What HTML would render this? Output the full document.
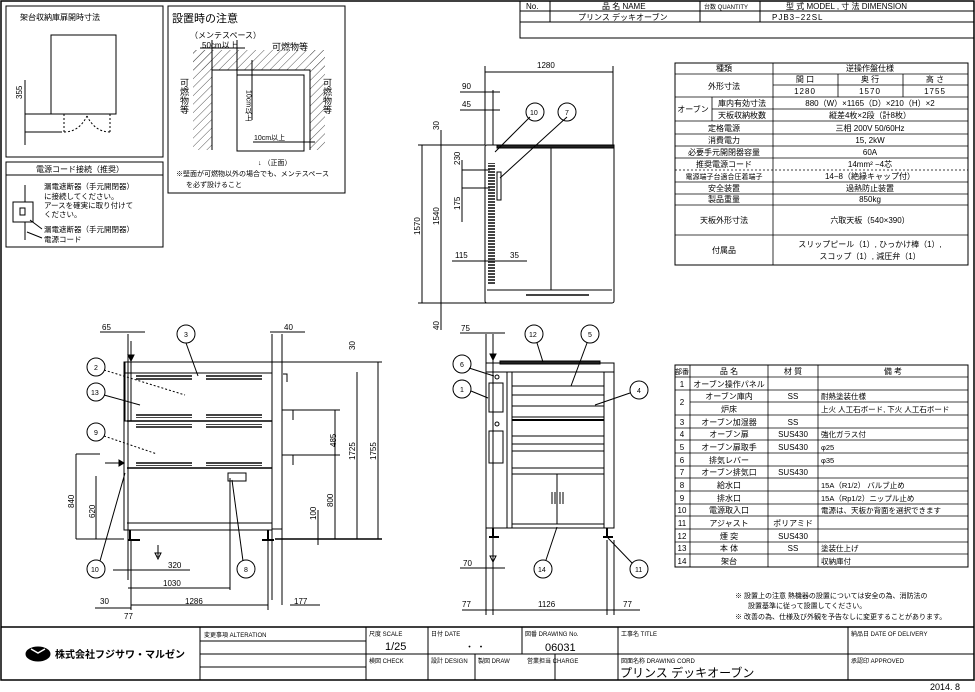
<!DOCTYPE html>
<html><head><meta charset="utf-8"><style>
body{margin:0;background:#fff}
svg{display:block;font-family:"Liberation Sans","Noto Sans CJK JP",sans-serif}
text{fill:#000}
</style></head><body>
<svg width="975" height="692" viewBox="0 0 975 692" xmlns="http://www.w3.org/2000/svg">
<defs>
<pattern id="h" width="6" height="6" patternUnits="userSpaceOnUse" patternTransform="rotate(45)"><line x1="0" y1="0" x2="0" y2="6" stroke="#555" stroke-width="1"/></pattern>
<pattern id="v" width="2" height="3" patternUnits="userSpaceOnUse"><rect width="2" height="2" fill="#444"/></pattern>
</defs>
<g fill="none" stroke="#000" stroke-width="1">
<rect x="1" y="1" width="973" height="679" stroke-width="1.5"/>
<rect x="520" y="1" width="454" height="37"/>
<line x1="520" y1="11" x2="974" y2="11"/><line x1="520" y1="22" x2="974" y2="22"/>
<line x1="550" y1="1" x2="550" y2="22"/><line x1="700" y1="1" x2="700" y2="22"/><line x1="760" y1="1" x2="760" y2="22"/>
<rect x="6" y="6" width="157" height="151"/>
<rect x="51" y="35" width="65" height="79"/>
<line x1="25" y1="80" x2="25" y2="145"/><line x1="25" y1="114" x2="60" y2="114"/><line x1="25" y1="132" x2="62" y2="132"/>
<path d="M64 114v18M110 114v18M64 132q15 0 23-16M110 132q-15 0-23-16" stroke-dasharray="2 2"/>
<rect x="6" y="162" width="157" height="85"/>
<line x1="6" y1="175" x2="163" y2="175"/>
<rect x="13" y="202" width="20" height="20"/><rect x="20" y="208" width="5" height="7"/>
<line x1="25" y1="185" x2="25" y2="202"/><line x1="25" y1="222" x2="25" y2="240"/>
<line x1="30" y1="220" x2="42" y2="229"/><line x1="27" y1="232" x2="42" y2="238"/>
<rect x="168" y="6" width="177" height="187"/>
<rect x="193" y="50" width="19" height="100" fill="url(#h)" stroke="none"/>
<rect x="193" y="50" width="132" height="20" fill="url(#h)" stroke="none"/>
<rect x="310" y="50" width="15" height="100" fill="url(#h)" stroke="none"/>
<path d="M212 150V70H310V150"/>
<rect x="237" y="75" width="67" height="76" fill="#fff"/>
<line x1="200" y1="48" x2="245" y2="48"/><line x1="212" y1="40" x2="212" y2="70"/><line x1="237" y1="40" x2="237" y2="75"/>
<line x1="252" y1="60" x2="252" y2="120"/><line x1="253" y1="142" x2="315" y2="142"/>
<line x1="485" y1="72" x2="613" y2="72"/><line x1="485" y1="66" x2="485" y2="145"/><line x1="613" y1="66" x2="613" y2="145"/>
<line x1="460" y1="92" x2="500" y2="92"/><line x1="460" y1="110" x2="500" y2="110"/>
<line x1="485" y1="90" x2="485" y2="112"/><line x1="493" y1="90" x2="493" y2="145"/>
<rect x="485" y="145" width="129" height="158" rx="2"/>
<rect x="497" y="145" width="117" height="3" fill="#222"/>
<line x1="551" y1="148" x2="551" y2="290"/>
<rect x="488" y="163" width="7" height="122" fill="url(#v)" stroke="none"/>
<rect x="497" y="172" width="4" height="28"/>
<line x1="487" y1="290" x2="612" y2="290"/>
<rect x="526" y="294" width="63" height="3" fill="url(#v)" stroke="none"/>
<line x1="422" y1="145" x2="422" y2="303"/><line x1="441" y1="145" x2="441" y2="303"/>
<line x1="418" y1="145" x2="485" y2="145"/><line x1="418" y1="303" x2="495" y2="303"/>
<line x1="441" y1="130" x2="441" y2="145"/><line x1="441" y1="303" x2="441" y2="330"/>
<line x1="462" y1="170" x2="490" y2="170"/><line x1="462" y1="188" x2="490" y2="188"/><line x1="462" y1="160" x2="462" y2="222"/>
<line x1="452" y1="261" x2="527" y2="261"/>
<line x1="495" y1="152" x2="530" y2="117"/><line x1="500" y1="178" x2="567" y2="117"/>
<circle cx="535" cy="112" r="9"/><circle cx="567" cy="112" r="9"/>
<rect x="124" y="362" width="148" height="168"/>
<rect x="125" y="362" width="6" height="59"/>
<line x1="124" y1="373" x2="272" y2="373"/>
<line x1="127" y1="421" x2="272" y2="421" stroke-width="1.5"/>
<line x1="127" y1="468" x2="272" y2="468" stroke-width="1.5"/>
<line x1="127" y1="523" x2="272" y2="523"/>
<path d="M272 362h10v167h-10"/>
<rect x="136" y="375" width="56" height="5" fill="url(#v)" stroke="none"/><rect x="206" y="375" width="56" height="5" fill="url(#v)" stroke="none"/>
<rect x="136" y="413" width="56" height="5" fill="url(#v)" stroke="none"/><rect x="206" y="413" width="56" height="5" fill="url(#v)" stroke="none"/>
<rect x="136" y="424" width="56" height="5" fill="url(#v)" stroke="none"/><rect x="206" y="424" width="56" height="5" fill="url(#v)" stroke="none"/>
<rect x="136" y="461" width="56" height="5" fill="url(#v)" stroke="none"/><rect x="206" y="461" width="56" height="5" fill="url(#v)" stroke="none"/>
<rect x="228" y="473" width="18" height="8"/>
<path d="M130 530v10M268 530v10M128 540h12M262 540h12" stroke-width="2"/>
<path d="M283 374h4v8M283 410h10v10M283 455h10v10"/>
<line x1="378" y1="362" x2="378" y2="539"/><line x1="357" y1="372" x2="357" y2="539"/><line x1="335" y1="410" x2="335" y2="539"/><line x1="318" y1="510" x2="318" y2="545"/>
<line x1="282" y1="362" x2="382" y2="362"/><line x1="282" y1="410" x2="340" y2="410"/><line x1="282" y1="455" x2="340" y2="455"/>
<line x1="275" y1="539" x2="382" y2="539" stroke-width="1.5"/>
<line x1="76" y1="454" x2="100" y2="454"/><line x1="76" y1="454" x2="76" y2="539"/><line x1="96" y1="476" x2="96" y2="539"/><line x1="76" y1="539" x2="124" y2="539"/>
<line x1="128" y1="334" x2="128" y2="580"/><line x1="272" y1="334" x2="272" y2="600"/><line x1="282" y1="334" x2="282" y2="605"/>
<line x1="100" y1="332" x2="145" y2="332"/><line x1="270" y1="332" x2="305" y2="332"/>
<line x1="113" y1="570" x2="190" y2="570"/><line x1="128" y1="588" x2="230" y2="588"/><line x1="131" y1="605" x2="268" y2="605"/>
<line x1="95" y1="608" x2="131" y2="608"/><line x1="290" y1="605" x2="320" y2="605"/>
<line x1="131" y1="540" x2="131" y2="610"/><line x1="230" y1="478" x2="230" y2="590"/><line x1="268" y1="540" x2="268" y2="610"/>
<path d="M131 341v14M128 355l3 6l3-6z" fill="#000"/>
<path d="M105 463h14M119 460l5 3l-5 3z" fill="#000"/>
<path d="M158 545v12M155 553l3 6l3-6z"/>
<circle cx="186" cy="334" r="9"/><circle cx="96" cy="367" r="9"/><circle cx="96" cy="392" r="9"/><circle cx="96" cy="432" r="9"/><circle cx="96" cy="569" r="9"/><circle cx="246" cy="569" r="9"/>
<line x1="104" y1="370" x2="185" y2="395" stroke-dasharray="2 2"/><line x1="104" y1="395" x2="140" y2="405"/><line x1="104" y1="436" x2="157" y2="454" stroke-dasharray="2 2"/>
<line x1="100" y1="561" x2="125" y2="473"/><line x1="243" y1="561" x2="232" y2="480"/><line x1="186" y1="343" x2="198" y2="376"/>
<rect x="486" y="363" width="128" height="9"/>
<rect x="500" y="361" width="100" height="3" fill="#222"/>
<rect x="486" y="372" width="128" height="156"/>
<line x1="507" y1="372" x2="507" y2="528"/><line x1="512" y1="372" x2="512" y2="528"/><line x1="604" y1="372" x2="604" y2="528"/>
<rect x="489" y="383" width="14" height="29"/><rect x="489" y="431" width="14" height="32"/>
<circle cx="497" cy="377" r="2"/><circle cx="497" cy="424" r="2"/>
<line x1="512" y1="386" x2="604" y2="386"/><line x1="512" y1="395" x2="604" y2="395"/><line x1="512" y1="406" x2="604" y2="406"/><line x1="512" y1="417" x2="604" y2="417"/>
<line x1="512" y1="420" x2="604" y2="420" stroke-width="2"/>
<line x1="512" y1="436" x2="604" y2="436"/><line x1="512" y1="444" x2="604" y2="444"/><line x1="512" y1="451" x2="604" y2="451"/><line x1="512" y1="468" x2="604" y2="468"/>
<line x1="512" y1="474" x2="604" y2="474"/><line x1="557" y1="474" x2="557" y2="524"/><line x1="512" y1="524" x2="604" y2="524"/>
<path d="M552 492v12M555 492v12M560 492v12M563 492v12"/>
<path d="M493 528v9M607 528v9M489 537h10M603 537h10" stroke-width="2"/>
<line x1="486" y1="334" x2="486" y2="615"/><line x1="493" y1="334" x2="493" y2="615"/><line x1="607" y1="540" x2="607" y2="615"/><line x1="614" y1="540" x2="614" y2="615"/>
<line x1="460" y1="333" x2="505" y2="333"/><line x1="460" y1="568" x2="505" y2="568"/>
<line x1="462" y1="610" x2="640" y2="610"/>
<path d="M493 342v12M490 354l3 6l3-6z" fill="#000"/>
<path d="M493 544v12M490 556l3 6l3-6z"/>
<circle cx="534" cy="334" r="9"/><circle cx="590" cy="334" r="9"/><circle cx="462" cy="364" r="9"/><circle cx="462" cy="389" r="9"/><circle cx="639" cy="390" r="9"/><circle cx="543" cy="569" r="9"/><circle cx="639" cy="569" r="9"/>
<line x1="537" y1="343" x2="543" y2="362"/><line x1="587" y1="343" x2="571" y2="386"/><line x1="469" y1="368" x2="494" y2="376"/><line x1="471" y1="391" x2="488" y2="398"/>
<line x1="630" y1="393" x2="595" y2="405"/><line x1="546" y1="560" x2="557" y2="527"/><line x1="632" y1="563" x2="608" y2="538"/>
<rect x="675" y="63" width="293" height="202"/>
<g stroke-width="0.8">
<line x1="675" y1="74" x2="968" y2="74"/><line x1="773" y1="85" x2="968" y2="85"/>
<line x1="675" y1="97" x2="968" y2="97"/><line x1="712" y1="109" x2="968" y2="109"/>
<line x1="675" y1="121" x2="968" y2="121"/><line x1="675" y1="134" x2="968" y2="134"/><line x1="675" y1="146" x2="968" y2="146"/><line x1="675" y1="158" x2="968" y2="158"/>
<line x1="675" y1="170" x2="968" y2="170" stroke-dasharray="2 2"/><line x1="675" y1="182" x2="968" y2="182"/><line x1="675" y1="194" x2="968" y2="194"/><line x1="675" y1="205" x2="968" y2="205"/><line x1="675" y1="235" x2="968" y2="235"/>
<line x1="773" y1="63" x2="773" y2="265"/><line x1="712" y1="97" x2="712" y2="121"/>
<line x1="838" y1="74" x2="838" y2="97"/><line x1="903" y1="74" x2="903" y2="97"/>
</g>
<rect x="675" y="365" width="293" height="202"/>
<g stroke-width="0.8">
<line x1="675" y1="377" x2="968" y2="377"/><line x1="675" y1="390" x2="968" y2="390"/><line x1="690" y1="402" x2="968" y2="402"/>
<line x1="675" y1="415" x2="968" y2="415"/><line x1="675" y1="428" x2="968" y2="428"/><line x1="675" y1="440" x2="968" y2="440"/><line x1="675" y1="453" x2="968" y2="453"/><line x1="675" y1="466" x2="968" y2="466"/><line x1="675" y1="478" x2="968" y2="478"/><line x1="675" y1="491" x2="968" y2="491"/><line x1="675" y1="504" x2="968" y2="504"/><line x1="675" y1="516" x2="968" y2="516"/><line x1="675" y1="529" x2="968" y2="529"/><line x1="675" y1="542" x2="968" y2="542"/><line x1="675" y1="554" x2="968" y2="554"/>
<line x1="690" y1="365" x2="690" y2="567"/><line x1="768" y1="365" x2="768" y2="567"/><line x1="818" y1="365" x2="818" y2="567"/>
</g>
<line x1="1" y1="627" x2="974" y2="627" stroke-width="1.5"/>
<line x1="200" y1="627" x2="200" y2="680"/><line x1="366" y1="627" x2="366" y2="680"/><line x1="428" y1="627" x2="428" y2="680"/><line x1="522" y1="627" x2="522" y2="654"/><line x1="618" y1="627" x2="618" y2="680"/><line x1="848" y1="627" x2="848" y2="680"/>
<line x1="475" y1="654" x2="475" y2="680"/><line x1="555" y1="654" x2="555" y2="680"/>
<line x1="200" y1="641" x2="366" y2="641"/><line x1="200" y1="654" x2="974" y2="654"/><line x1="200" y1="667" x2="366" y2="667"/>
<ellipse cx="38" cy="654" rx="12" ry="7" fill="#000"/>
<path d="M31 649l7 4l7-4" stroke="#fff" stroke-width="1.5"/>
</g>
<g font-size="8">
<text x="526" y="9">No.</text><text x="602" y="9">品 名 NAME</text><text x="704" y="9" font-size="6">台数 QUANTITY</text><text x="786" y="9">型 式 MODEL  ,  寸 法 DIMENSION</text>
<text x="578" y="20">プリンス デッキオーブン</text><text x="772" y="20" letter-spacing="1">PJB3−22SL</text>
<text x="20" y="20">架台収納庫扉開時寸法</text>
<text x="22" y="99" transform="rotate(-90 22 99)">355</text>
<text x="172" y="22" font-size="11">設置時の注意</text>
<text x="190" y="38">（メンテスペース）</text><text x="202" y="48">50cm以上</text><text x="272" y="50" font-size="9">可燃物等</text>
<text x="184" y="78" font-size="9" writing-mode="tb">可燃物等</text><text x="327" y="78" font-size="9" writing-mode="tb">可燃物等</text>
<text x="248" y="90" writing-mode="tb" font-size="7">10cm以上</text><text x="254" y="140" font-size="7">10cm以上</text>
<text x="258" y="165" font-size="7">↓ （正面）</text>
<text x="176" y="176" font-size="7">※壁面が可燃物以外の場合でも、メンテスペース</text><text x="186" y="187" font-size="7">を必ず設けること</text>
<text x="36" y="172">電源コード接続（推奨）</text>
<text x="44" y="189" font-size="7.5">漏電遮断器（手元開閉器）</text><text x="44" y="199" font-size="7.5">に接続してください。</text><text x="44" y="208" font-size="7.5">アースを確実に取り付けて</text><text x="44" y="217" font-size="7.5">ください。</text>
<text x="44" y="232" font-size="7.5">漏電遮断器（手元開閉器）</text><text x="44" y="242" font-size="7.5">電源コード</text>
<text x="537" y="68">1280</text><text x="462" y="89">90</text><text x="462" y="107">45</text>
<text x="439" y="130" transform="rotate(-90 439 130)">30</text>
<text x="420" y="235" transform="rotate(-90 420 235)">1570</text><text x="439" y="225" transform="rotate(-90 439 225)">1540</text>
<text x="460" y="165" transform="rotate(-90 460 165)">230</text><text x="460" y="210" transform="rotate(-90 460 210)">175</text>
<text x="455" y="258">115</text><text x="510" y="258">35</text>
<text x="439" y="330" transform="rotate(-90 439 330)">40</text>
<text x="530" y="115" font-size="7">10</text><text x="565" y="115" font-size="7">7</text>
<text x="102" y="330">65</text><text x="284" y="330">40</text><text x="355" y="350" transform="rotate(-90 355 350)">30</text>
<text x="336" y="447" transform="rotate(-90 336 447)">485</text><text x="333" y="507" transform="rotate(-90 333 507)">800</text><text x="316" y="520" transform="rotate(-90 316 520)">100</text>
<text x="355" y="460" transform="rotate(-90 355 460)">1725</text><text x="376" y="460" transform="rotate(-90 376 460)">1755</text>
<text x="74" y="508" transform="rotate(-90 74 508)">840</text><text x="95" y="518" transform="rotate(-90 95 518)">620</text>
<text x="168" y="568">320</text><text x="163" y="586">1030</text><text x="100" y="604">30</text><text x="185" y="604">1286</text><text x="294" y="604">177</text><text x="124" y="619">77</text>
<text x="184" y="337" font-size="7">3</text><text x="94" y="370" font-size="7">2</text><text x="91" y="395" font-size="7">13</text><text x="94" y="435" font-size="7">9</text><text x="91" y="572" font-size="7">10</text><text x="244" y="572" font-size="7">8</text>
<text x="461" y="331">75</text><text x="463" y="566">70</text><text x="462" y="607">77</text><text x="538" y="607">1126</text><text x="623" y="607">77</text>
<text x="529" y="337" font-size="7">12</text><text x="588" y="337" font-size="7">5</text><text x="460" y="367" font-size="7">6</text><text x="460" y="392" font-size="7">1</text><text x="637" y="393" font-size="7">4</text><text x="538" y="572" font-size="7">14</text><text x="635" y="572" font-size="7">11</text>
</g>
<g font-size="8" text-anchor="middle">
<text x="724" y="71">種類</text><text x="870" y="71">逆操作盤仕様</text>
<text x="724" y="89">外形寸法</text><text x="805" y="82">間 口</text><text x="870" y="82">奥 行</text><text x="935" y="82">高 さ</text>
<text x="805" y="94" letter-spacing="1">1280</text><text x="870" y="94" letter-spacing="1">1570</text><text x="935" y="94" letter-spacing="1">1755</text>
<text x="693" y="112">オーブン</text><text x="742" y="106">庫内有効寸法</text><text x="870" y="106">880（W）×1165（D）×210（H）×2</text>
<text x="742" y="118">天板収納枚数</text><text x="870" y="118">縦差4枚×2段（計8枚）</text>
<text x="724" y="131">定格電源</text><text x="870" y="131">三相 200V 50/60Hz</text>
<text x="724" y="143">消費電力</text><text x="870" y="143">15, 2kW</text>
<text x="724" y="155">必要手元開閉器容量</text><text x="870" y="155">60A</text>
<text x="724" y="167">推奨電源コード</text><text x="870" y="167">14mm² −4芯</text>
<text x="724" y="179" font-size="7">電源端子台適合圧着端子</text><text x="870" y="179">14−8（絶縁キャップ付）</text>
<text x="724" y="191">安全装置</text><text x="870" y="191">過熱防止装置</text>
<text x="724" y="202">製品重量</text><text x="870" y="202">850kg</text>
<text x="724" y="223">天板外形寸法</text><text x="870" y="223">六取天板（540×390）</text>
<text x="724" y="253">付属品</text><text x="870" y="247">スリップピール（1）, ひっかけ棒（1）,</text><text x="870" y="259">スコップ（1）, 減圧弁（1）</text>
<text x="682" y="374" font-size="7">部番</text><text x="729" y="374">品 名</text><text x="793" y="374">材 質</text><text x="893" y="374">備 考</text>
<text x="682" y="387">1</text><text x="729" y="387">オーブン操作パネル</text>
<text x="682" y="405">2</text><text x="729" y="399">オーブン庫内</text><text x="793" y="399">SS</text><text x="729" y="412">炉床</text>
<text x="682" y="425">3</text><text x="729" y="425">オーブン加湿器</text><text x="793" y="425">SS</text>
<text x="682" y="437">4</text><text x="729" y="437">オーブン扉</text><text x="793" y="437">SUS430</text>
<text x="682" y="450">5</text><text x="729" y="450">オーブン扉取手</text><text x="793" y="450">SUS430</text>
<text x="682" y="463">6</text><text x="729" y="463">排気レバー</text>
<text x="682" y="475">7</text><text x="729" y="475">オーブン排気口</text><text x="793" y="475">SUS430</text>
<text x="682" y="488">8</text><text x="729" y="488">給水口</text>
<text x="682" y="501">9</text><text x="729" y="501">排水口</text>
<text x="682" y="513">10</text><text x="729" y="513">電源取入口</text>
<text x="682" y="526">11</text><text x="729" y="526">アジャスト</text><text x="793" y="526">ポリアミド</text>
<text x="682" y="539">12</text><text x="729" y="539">煙 突</text><text x="793" y="539">SUS430</text>
<text x="682" y="551">13</text><text x="729" y="551">本 体</text><text x="793" y="551">SS</text>
<text x="682" y="564">14</text><text x="729" y="564">架台</text>
</g>
<g font-size="7.5">
<text x="821" y="399">耐熱塗装仕様</text><text x="821" y="412">上火 人工石ボード, 下火 人工石ボード</text>
<text x="821" y="437">強化ガラス付</text><text x="821" y="450">φ25</text><text x="821" y="463">φ35</text>
<text x="821" y="488">15A（R1/2） バルブ止め</text><text x="821" y="501">15A（Rp1/2）ニップル止め</text><text x="821" y="513">電源は、天板か背面を選択できます</text>
<text x="821" y="551">塗装仕上げ</text><text x="821" y="564">収納庫付</text>
<text x="735" y="598" font-size="7">※ 設置上の注意 熱機器の設置については安全の為、消防法の</text>
<text x="748" y="608" font-size="7">設置基準に従って設置してください。</text>
<text x="735" y="619" font-size="7">※ 改善の為、仕様及び外観を予告なしに変更することがあります。</text>
</g>
<g font-size="6">
<text x="204" y="637">変更事項 ALTERATION</text><text x="369" y="636">尺度 SCALE</text><text x="431" y="636">日付 DATE</text><text x="525" y="636">図番 DRAWING No.</text><text x="621" y="636">工事名 TITLE</text><text x="851" y="636">納品日 DATE OF DELIVERY</text>
<text x="369" y="663">検図 CHECK</text><text x="431" y="663">設計 DESIGN</text><text x="478" y="663">製図 DRAW</text><text x="527" y="663">営業担当 CHARGE</text><text x="621" y="663">図面名称 DRAWING CORD</text><text x="851" y="663">承認印 APPROVED</text>
</g>
<text x="385" y="650" font-size="11">1/25</text><text x="465" y="650" font-size="9">・ ・</text><text x="545" y="651" font-size="11">06031</text>
<text x="620" y="677" font-size="12">プリンス デッキオーブン</text>
<text x="55" y="658" font-size="10" font-weight="bold">株式会社フジサワ・マルゼン</text>
<text x="930" y="690" font-size="9">2014. 8</text>
</svg>
</body></html>
